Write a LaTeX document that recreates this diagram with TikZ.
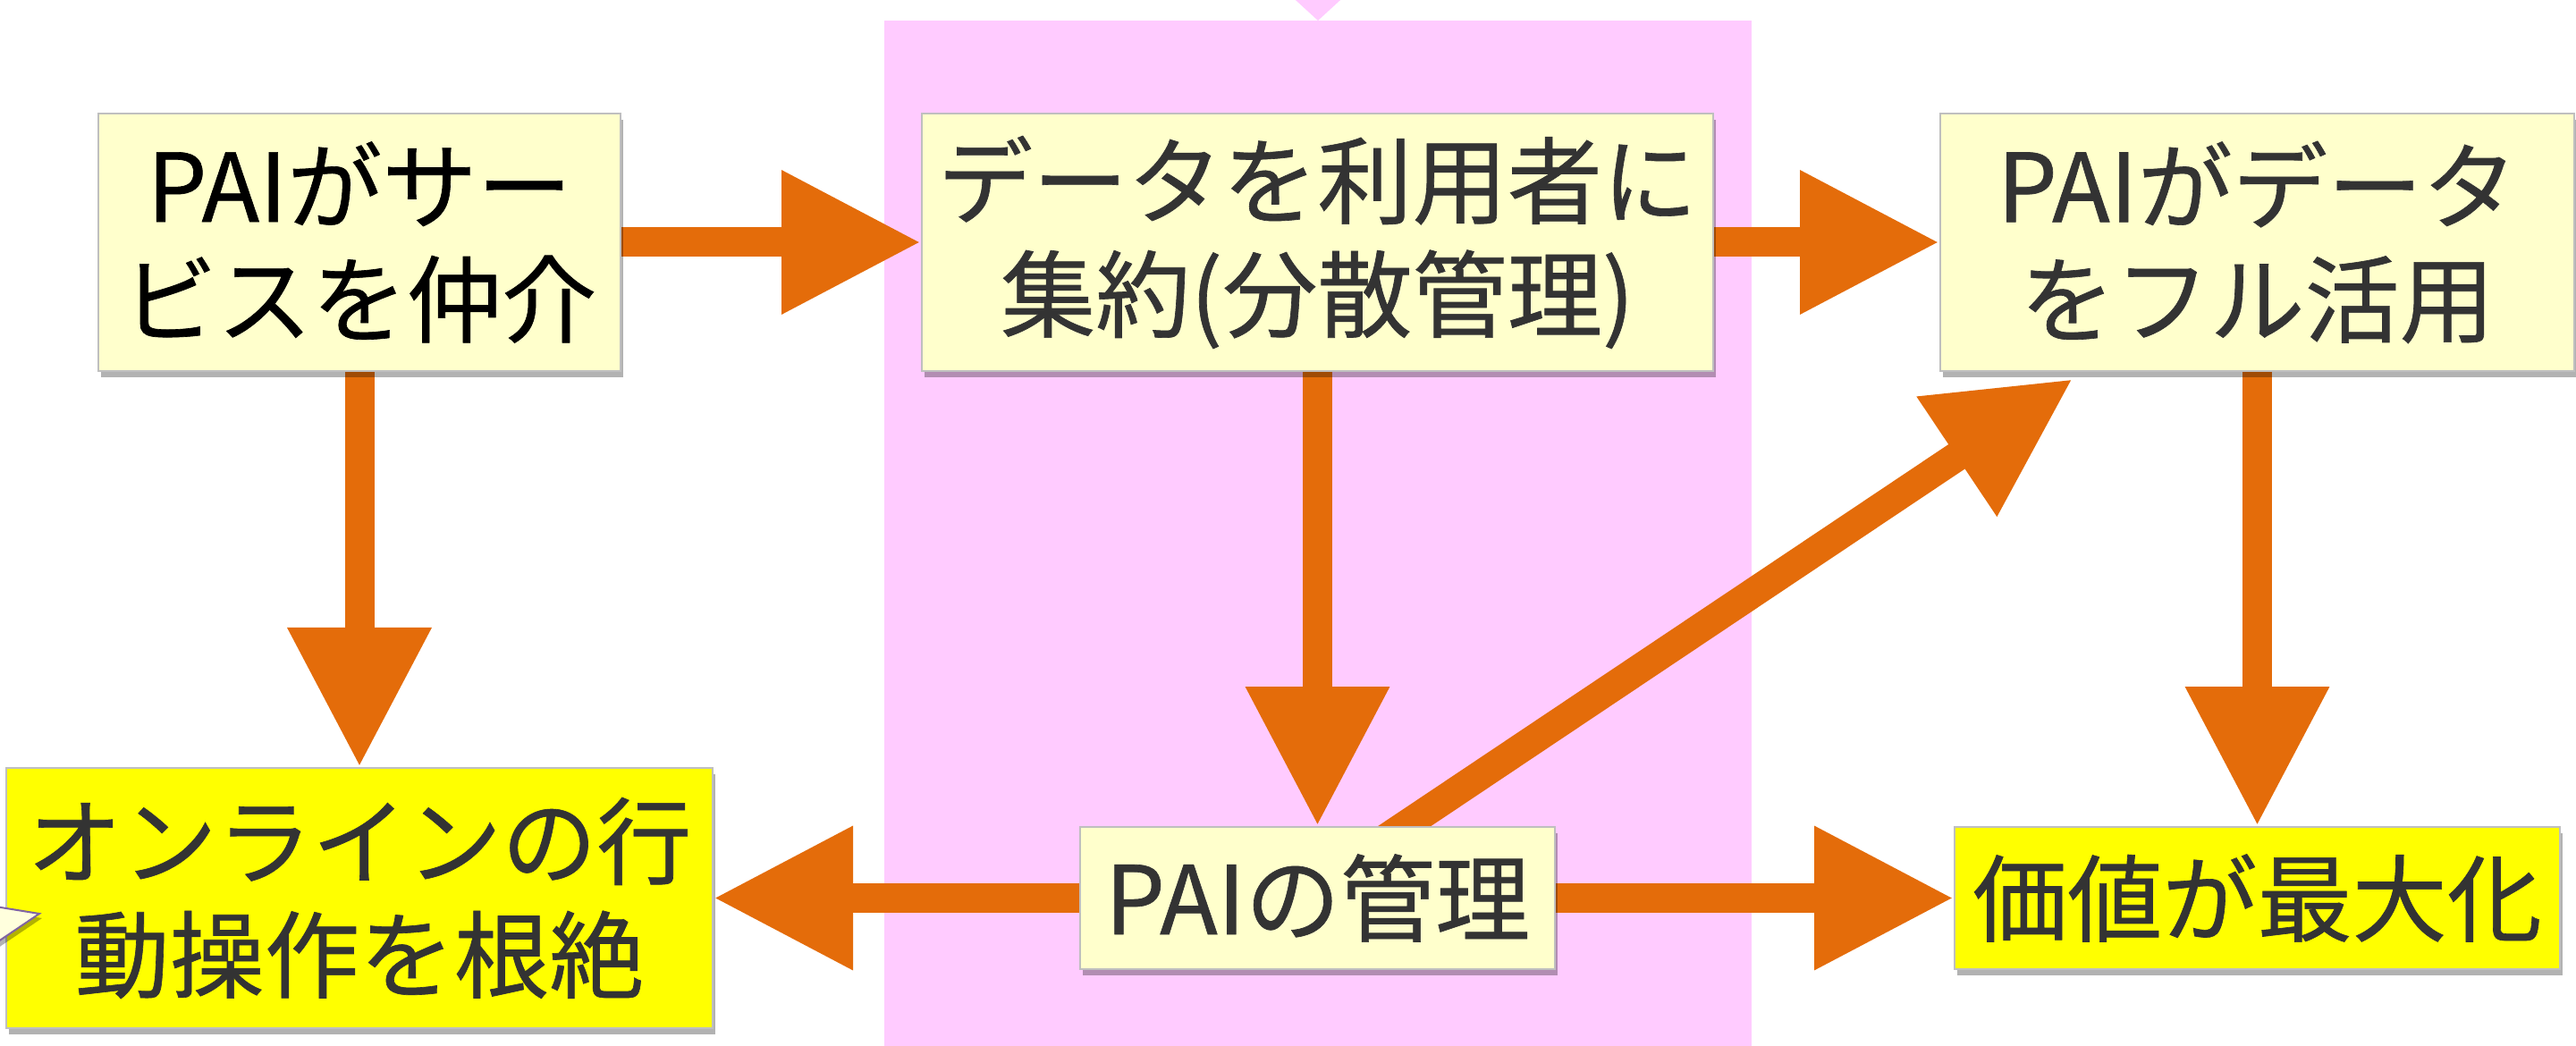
\documentclass[tikz,border=0pt]{standalone}
\usepackage{fontspec}
\newfontfamily\jp[FakeBold=0.6]{Noto Sans CJK JP}
\usetikzlibrary{arrows.meta,shadows,calc}
\definecolor{pinkbg}{HTML}{FFCBFF}
\definecolor{lyel}{HTML}{FFFFCC}
\definecolor{yel}{HTML}{FFFF00}
\definecolor{orng}{HTML}{E46C0A}
\definecolor{bordgray}{HTML}{BFBFBF}
\definecolor{txt}{HTML}{333333}
\definecolor{calloutfill}{HTML}{FFFFDD}
\definecolor{calloutline}{HTML}{8064A2}
\pgfdeclarelayer{back}
\pgfdeclarelayer{mid}
\pgfsetlayers{back,mid,main}
\tikzset{
  box/.style={draw=bordgray, line width=0.02cm, inner sep=0pt, align=center, text=txt,
    font=\jp\fontsize{30.2pt}{36.1pt}\selectfont,
    drop shadow={shadow xshift=0.03cm, shadow yshift=-0.07cm, fill=black, opacity=0.3}},
  arr/.style={draw=orng, line width=0.33cm, -{Triangle[width=1.52cm,length=1.56cm]}}
}
\begin{document}
\begin{tikzpicture}
\useasboundingbox (0,0) rectangle (28.81,-11.70);
\clip (0,0) rectangle (28.81,-11.70);
\begin{pgfonlayer}{back}
  \fill[white] (0,0) rectangle (28.81,-11.70);
  \fill[pinkbg] (9.89,-0.23) rectangle (19.59,-11.90);
  \fill[pinkbg] (14.38,0.10) -- (15.10,0.10) -- (14.74,-0.23) -- cycle;
\end{pgfonlayer}
\node[box, fill=lyel, text=black, minimum width=5.84cm, minimum height=2.88cm] (A) at (4.02,-2.71) {PAIがサー\\ビスを仲介};
\node[box, fill=lyel, minimum width=8.85cm, minimum height=2.88cm] (B) at (14.735,-2.71) {データを利用者に\\集約(分散管理)};
\node[box, fill=lyel, minimum width=7.09cm, minimum height=2.88cm] (C) at (25.245,-2.71) {PAIがデータ\\をフル活用};
\node[box, fill=yel, minimum width=7.90cm, minimum height=2.91cm] (D) at (4.02,-10.045) {オンラインの行\\動操作を根絶};
\node[box, fill=lyel, minimum width=5.31cm, minimum height=1.59cm] (E) at (14.735,-10.045) {PAIの管理};
\node[box, fill=yel, minimum width=6.77cm, minimum height=1.59cm] (F) at (25.245,-10.045) {価値が最大化};
\coordinate (tipC) at ($(C.south west)+(1.49,-0.08)$);
\begin{pgfonlayer}{mid}
  \draw[arr] (A) -- (B);
  \draw[arr] (B) -- (C);
  \draw[arr] (A) -- (D);
  \draw[arr] (B) -- (E);
  \draw[arr] (C) -- (F);
  \draw[arr] (E) -- (D);
  \draw[arr] (E) -- (F);
  \draw[arr] ($(E.center)+(-0.23,0)$) -- (tipC);
\end{pgfonlayer}
\filldraw[fill=calloutfill, draw=calloutline, line width=0.02cm,
  drop shadow={shadow xshift=0.03cm, shadow yshift=-0.05cm, fill=black, opacity=0.3}]
  (-0.30,-10.10) -- (0.44,-10.22) -- (-0.30,-10.72) -- cycle;
\end{tikzpicture}
\end{document}
